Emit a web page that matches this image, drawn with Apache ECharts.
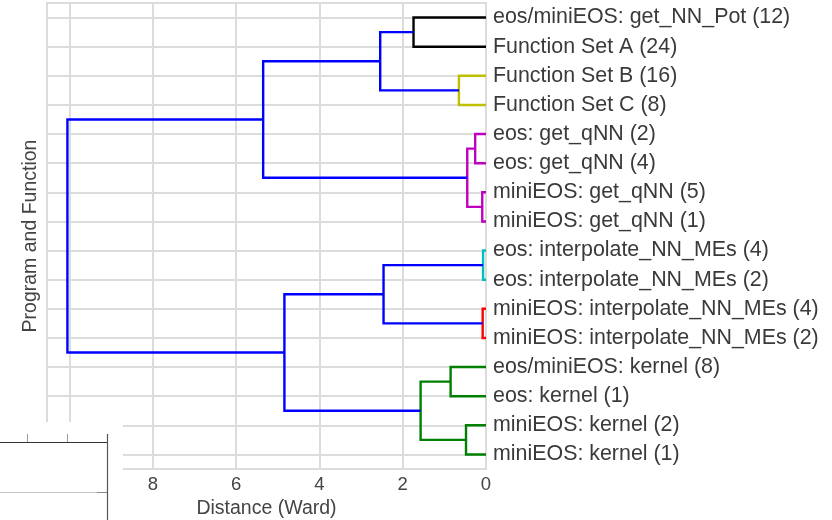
<!DOCTYPE html>
<html>
<head>
<meta charset="utf-8">
<script src="https://cdn.jsdelivr.net/npm/echarts@6/dist/echarts.min.js"></script>
<style>
  html, body { margin: 0; padding: 0; background: #fff; }
  #chart { width: 832px; height: 520px; }
</style>
</head>
<body>
<div id="chart"></div>
<script>
// Leaves (top to bottom)
const leafLabels = [
  'eos/miniEOS: get_NN_Pot (12)',
  'Function Set A (24)',
  'Function Set B (16)',
  'Function Set C (8)',
  'eos: get_qNN (2)',
  'eos: get_qNN (4)',
  'miniEOS: get_qNN (5)',
  'miniEOS: get_qNN (1)',
  'eos: interpolate_NN_MEs (4)',
  'eos: interpolate_NN_MEs (2)',
  'miniEOS: interpolate_NN_MEs (4)',
  'miniEOS: interpolate_NN_MEs (2)',
  'eos/miniEOS: kernel (8)',
  'eos: kernel (1)',
  'miniEOS: kernel (2)',
  'miniEOS: kernel (1)'
];
// Linkage: node ids 0..15 are leaves, merge k creates node 16+k
const mergeLeft  = [0, 2, 4, 6, 18, 16, 21, 8, 10, 23, 12, 14, 26, 25, 22];
const mergeRight = [1, 3, 5, 7, 19, 17, 20, 9, 11, 24, 13, 15, 27, 28, 29];
const mergeDist  = [1.74, 0.65, 0.26, 0.09, 0.45, 2.54, 5.35, 0.07, 0.08, 2.46, 0.85, 0.48, 1.57, 4.84, 10.05];
const mergeColor = ['#000000', '#bfbf00', '#bf00bf', '#bf00bf', '#bf00bf', '#0000ff', '#0000ff',
                    '#00bfbf', '#ff0000', '#0000ff', '#008000', '#008000', '#008000', '#0000ff', '#0000ff'];
const xTickInterval = 2;
const xMax = 10.54;

const nLeaves = leafLabels.length;
const leafIdx = leafLabels.map((_, i) => i);
const nodePos = leafIdx.slice();
const nodeDist = leafIdx.map(() => 0);
const series = [];
mergeLeft.forEach((l, k) => {
  const r = mergeRight[k];
  const d = mergeDist[k];
  nodePos.push((nodePos[l] + nodePos[r]) / 2);
  nodeDist.push(d);
  series.push({
    type: 'line',
    data: [[nodeDist[l], nodePos[l]], [d, nodePos[l]], [d, nodePos[r]], [nodeDist[r], nodePos[r]]],
    showSymbol: false,
    symbol: 'none',
    lineStyle: { color: mergeColor[k], width: 2.4, cap: 'butt', join: 'miter' },
    itemStyle: { color: mergeColor[k] },
    animation: false,
    silent: true
  });
});

const gridColor = '#dcdcdc';
const chart = echarts.init(document.getElementById('chart'), null, { renderer: 'canvas' });
chart.setOption({
  backgroundColor: '#fff',
  animation: false,
  textStyle: { fontFamily: 'Liberation Sans, Arial, sans-serif' },
  grid: {
    left: 47, right: 346, top: 3, bottom: 51,
    outerBoundsMode: 'none', containLabel: false,
    show: true, borderColor: gridColor, borderWidth: 2, backgroundColor: 'transparent'
  },
  xAxis: {
    type: 'value', inverse: true, min: 0, max: xMax, interval: xTickInterval,
    name: 'Distance (Ward)', nameLocation: 'middle', nameGap: 29,
    nameTextStyle: { fontSize: 19.5, color: '#444' },
    axisLine: { show: false }, axisTick: { show: false },
    axisLabel: { fontSize: 18.5, color: '#444', margin: 6, showMaxLabel: false },
    splitLine: { show: true, lineStyle: { color: gridColor, width: 2 } }
  },
  yAxis: [{
    type: 'value', inverse: true, min: -0.5, max: nLeaves - 0.5, position: 'right',
    axisLine: { show: false },
    axisTick: { show: false, customValues: leafIdx },
    axisLabel: { customValues: leafIdx, formatter: v => leafLabels[Math.round(v)], fontSize: 21.4, color: '#3a3a3a', margin: 7 },
    splitLine: { show: true, lineStyle: { color: gridColor, width: 2 } }
  }, {
    type: 'value', inverse: true, min: -0.5, max: nLeaves - 0.5, position: 'left',
    name: 'Program and Function', nameLocation: 'middle', nameGap: 6, nameRotate: 90,
    nameTextStyle: { fontSize: 19.5, color: '#444' },
    axisLine: { show: false }, axisTick: { show: false }, axisLabel: { show: false },
    splitLine: { show: false }
  }],
  series: series,
  graphic: [
    { type: 'rect', z: 100, zlevel: 1, silent: true, shape: { x: 0, y: 422, width: 123, height: 98 }, style: { fill: '#ffffff' } },
    { type: 'line', z: 101, zlevel: 1, silent: true, shape: { x1: 0, y1: 492.5, x2: 107, y2: 492.5 }, style: { stroke: '#c4c4c4', lineWidth: 1 } },
    { type: 'line', z: 102, zlevel: 1, silent: true, shape: { x1: 97, y1: 492.5, x2: 107, y2: 492.5 }, style: { stroke: '#888', lineWidth: 1 } },
    { type: 'line', z: 101, zlevel: 1, silent: true, shape: { x1: 27.5, y1: 434, x2: 27.5, y2: 442 }, style: { stroke: '#999', lineWidth: 1 } },
    { type: 'line', z: 101, zlevel: 1, silent: true, shape: { x1: 67.5, y1: 434, x2: 67.5, y2: 442 }, style: { stroke: '#999', lineWidth: 1 } },
    { type: 'line', z: 103, zlevel: 1, silent: true, shape: { x1: 0, y1: 442.5, x2: 107, y2: 442.5 }, style: { stroke: '#333', lineWidth: 1 } },
    { type: 'line', z: 103, zlevel: 1, silent: true, shape: { x1: 107.5, y1: 434, x2: 107.5, y2: 520 }, style: { stroke: '#555', lineWidth: 1.2 } }
  ]
});
</script>
</body>
</html>
